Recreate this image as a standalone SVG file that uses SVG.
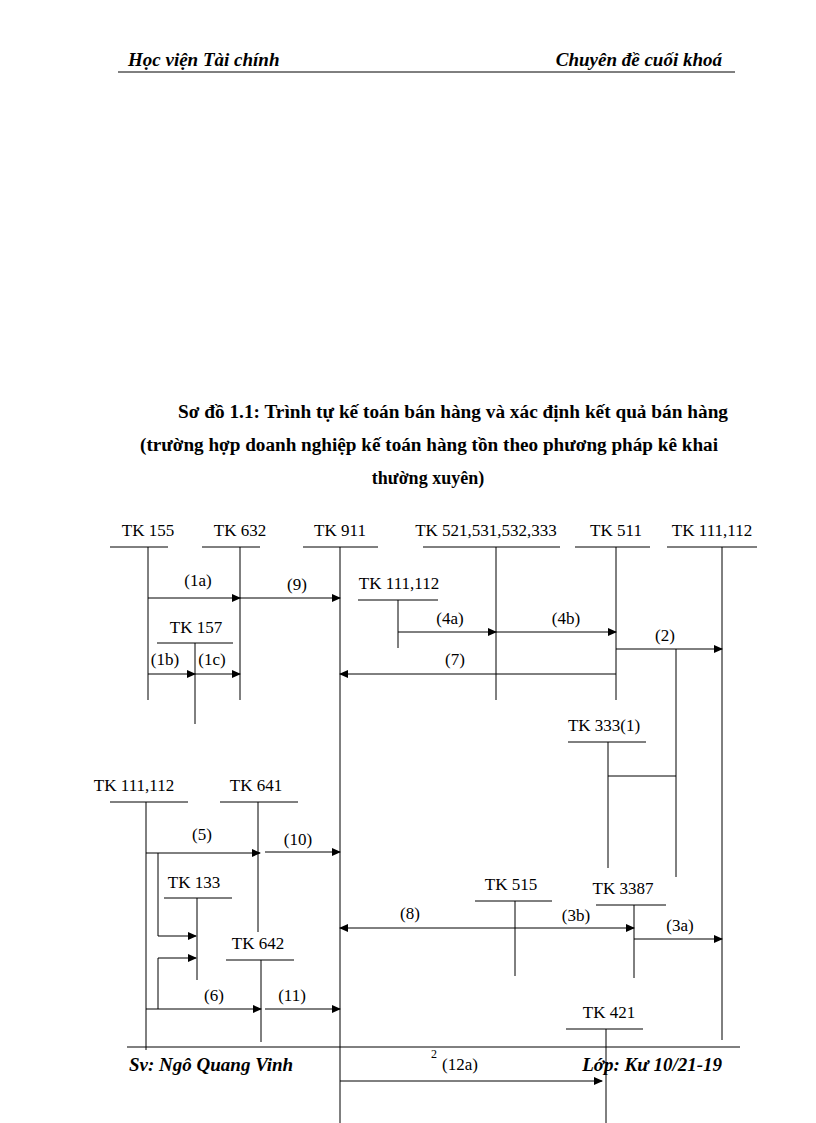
<svg xmlns="http://www.w3.org/2000/svg" width="816" height="1123" viewBox="0 0 816 1123">
<style>
text{font-family:"Liberation Serif",serif;font-size:17px;fill:#000}
.c{text-anchor:middle}
.h{font-weight:bold;font-style:italic;font-size:19px}
.t{font-weight:bold;font-size:18px;text-anchor:middle}
line{stroke:#000;stroke-width:1}
.a{marker-end:url(#ar)}
</style>
<defs><marker id="ar" markerWidth="9" markerHeight="8" refX="8" refY="4" orient="auto" markerUnits="userSpaceOnUse"><path d="M0,0L9,4L0,8z" fill="#000"/></marker>
<marker id="as" markerWidth="9" markerHeight="8" refX="1" refY="4" orient="auto" markerUnits="userSpaceOnUse"><path d="M9,0L0,4L9,8z" fill="#000"/></marker></defs>
<rect width="816" height="1123" fill="#fff"/>
<text x="128" y="66" class="h">Học viện Tài chính</text>
<text x="722" y="66" class="h" text-anchor="end">Chuyên đề cuối khoá</text>
<line x1="118" y1="72" x2="735" y2="72"/>
<text x="453" y="418" class="t" textLength="550" lengthAdjust="spacingAndGlyphs">Sơ đồ 1.1: Trình tự kế toán bán hàng và xác định kết quả bán hàng</text>
<text x="429" y="451" class="t" textLength="578" lengthAdjust="spacingAndGlyphs">(trường hợp doanh nghiệp kế toán hàng tồn theo phương pháp kê khai</text>
<text x="428" y="484" class="t">thường xuyên)</text>
<g id="tk155"><text x="148" y="536" class="c">TK 155</text><line x1="110" y1="547" x2="168" y2="547"/><line x1="148" y1="547" x2="148" y2="700"/></g>
<g id="tk632"><text x="240" y="536" class="c">TK 632</text><line x1="202" y1="547" x2="260" y2="547"/><line x1="240" y1="547" x2="240" y2="700"/></g>
<g id="tk911"><text x="340" y="536" class="c">TK 911</text><line x1="303" y1="547" x2="378" y2="547"/><line x1="340" y1="547" x2="340" y2="1123"/></g>
<g id="tk521"><text x="486" y="536" class="c">TK 521,531,532,333</text><line x1="423" y1="547" x2="560" y2="547"/><line x1="496" y1="547" x2="496" y2="700"/></g>
<g id="tk511"><text x="616" y="536" class="c">TK 511</text><line x1="575" y1="547" x2="650" y2="547"/><line x1="616" y1="547" x2="616" y2="700"/></g>
<g id="tk111a"><text x="712" y="536" class="c">TK 111,112</text><line x1="667" y1="547" x2="757" y2="547"/><line x1="722" y1="547" x2="722" y2="1040"/></g>
<g id="tk111b"><text x="399" y="589" class="c">TK 111,112</text><line x1="358" y1="600" x2="438" y2="600"/><line x1="398" y1="600" x2="398" y2="648"/></g>
<g id="tk157"><text x="196" y="633" class="c">TK 157</text><line x1="157" y1="643" x2="233" y2="643"/><line x1="195" y1="643" x2="195" y2="724"/></g>
<g id="tk3331"><text x="604" y="731" class="c">TK 333(1)</text><line x1="568" y1="742" x2="646" y2="742"/><line x1="608" y1="742" x2="608" y2="868"/></g>
<g id="tk111c"><text x="134" y="791" class="c">TK 111,112</text><line x1="110" y1="802" x2="188" y2="802"/><line x1="146" y1="802" x2="146" y2="1050"/></g>
<g id="tk641"><text x="256" y="791" class="c">TK 641</text><line x1="220" y1="802" x2="298" y2="802"/><line x1="258" y1="802" x2="258" y2="932"/></g>
<g id="tk133"><text x="194" y="888" class="c">TK 133</text><line x1="164" y1="898" x2="232" y2="898"/><line x1="197" y1="898" x2="197" y2="980"/></g>
<g id="tk642"><text x="258" y="949" class="c">TK 642</text><line x1="226" y1="960" x2="294" y2="960"/><line x1="261" y1="960" x2="261" y2="1042"/></g>
<g id="tk515"><text x="511" y="890" class="c">TK 515</text><line x1="475" y1="901" x2="552" y2="901"/><line x1="515" y1="901" x2="515" y2="976"/></g>
<g id="tk3387"><text x="623" y="894" class="c">TK 3387</text><line x1="596" y1="905" x2="666" y2="905"/><line x1="634" y1="905" x2="634" y2="978"/></g>
<g id="tk421"><text x="609" y="1018" class="c">TK 421</text><line x1="566" y1="1029" x2="643" y2="1029"/><line x1="606" y1="1029" x2="606" y2="1123"/></g>
<g id="connectors">
<line class="a" x1="148" y1="598" x2="240" y2="598"/>
<line class="a" x1="240" y1="598" x2="340" y2="598"/>
<line class="a" x1="398" y1="632" x2="496" y2="632"/>
<line class="a" x1="496" y1="632" x2="616" y2="632"/>
<line class="a" x1="616" y1="649" x2="722" y2="649"/>
<line x1="676" y1="649" x2="676" y2="877"/>
<line x1="608" y1="776" x2="676" y2="776"/>
<line class="a" x1="148" y1="674" x2="195" y2="674"/>
<line class="a" x1="195" y1="674" x2="240" y2="674"/>
<line class="a" x1="616" y1="674" x2="340" y2="674"/>
<line class="a" x1="146" y1="853" x2="260" y2="853"/>
<line class="a" x1="265" y1="852" x2="340" y2="852"/>
<polyline points="158,853 158,936 196,936" fill="none" stroke="#000" class="a"/>
<polyline points="158,1009 158,958 196,958" fill="none" stroke="#000" class="a"/>
<line class="a" x1="146" y1="1009" x2="261" y2="1009"/>
<line class="a" x1="265" y1="1009" x2="340" y2="1009"/>
<line class="a" x1="340" y1="928" x2="634" y2="928" marker-start="url(#as)"/>
<line class="a" x1="634" y1="939" x2="722" y2="939"/>
<line class="a" x1="340" y1="1081" x2="602" y2="1081"/>
</g>
<g id="labels">
<text x="198" y="586" class="c">(1a)</text><text x="297" y="590" class="c">(9)</text>
<text x="450" y="624" class="c">(4a)</text><text x="566" y="624" class="c">(4b)</text>
<text x="665" y="641" class="c">(2)</text><text x="165" y="665" class="c">(1b)</text>
<text x="212" y="665" class="c">(1c)</text><text x="455" y="665" class="c">(7)</text>
<text x="202" y="840" class="c">(5)</text><text x="298" y="845" class="c">(10)</text>
<text x="214" y="1001" class="c">(6)</text><text x="292" y="1001" class="c">(11)</text>
<text x="410" y="919" class="c">(8)</text><text x="576" y="921" class="c">(3b)</text>
<text x="680" y="931" class="c">(3a)</text>
<text x="434" y="1058" style="font-size:12px" class="c">2</text>
<text x="460" y="1070" class="c">(12a)</text>
</g>
<line x1="127" y1="1047" x2="740" y2="1047" stroke-width="2.5"/>
<text x="129" y="1071" class="h">Sv: Ngô Quang Vinh</text>
<text x="722" y="1071" class="h" text-anchor="end">Lớp: Kư 10/21-19</text>
</svg>
